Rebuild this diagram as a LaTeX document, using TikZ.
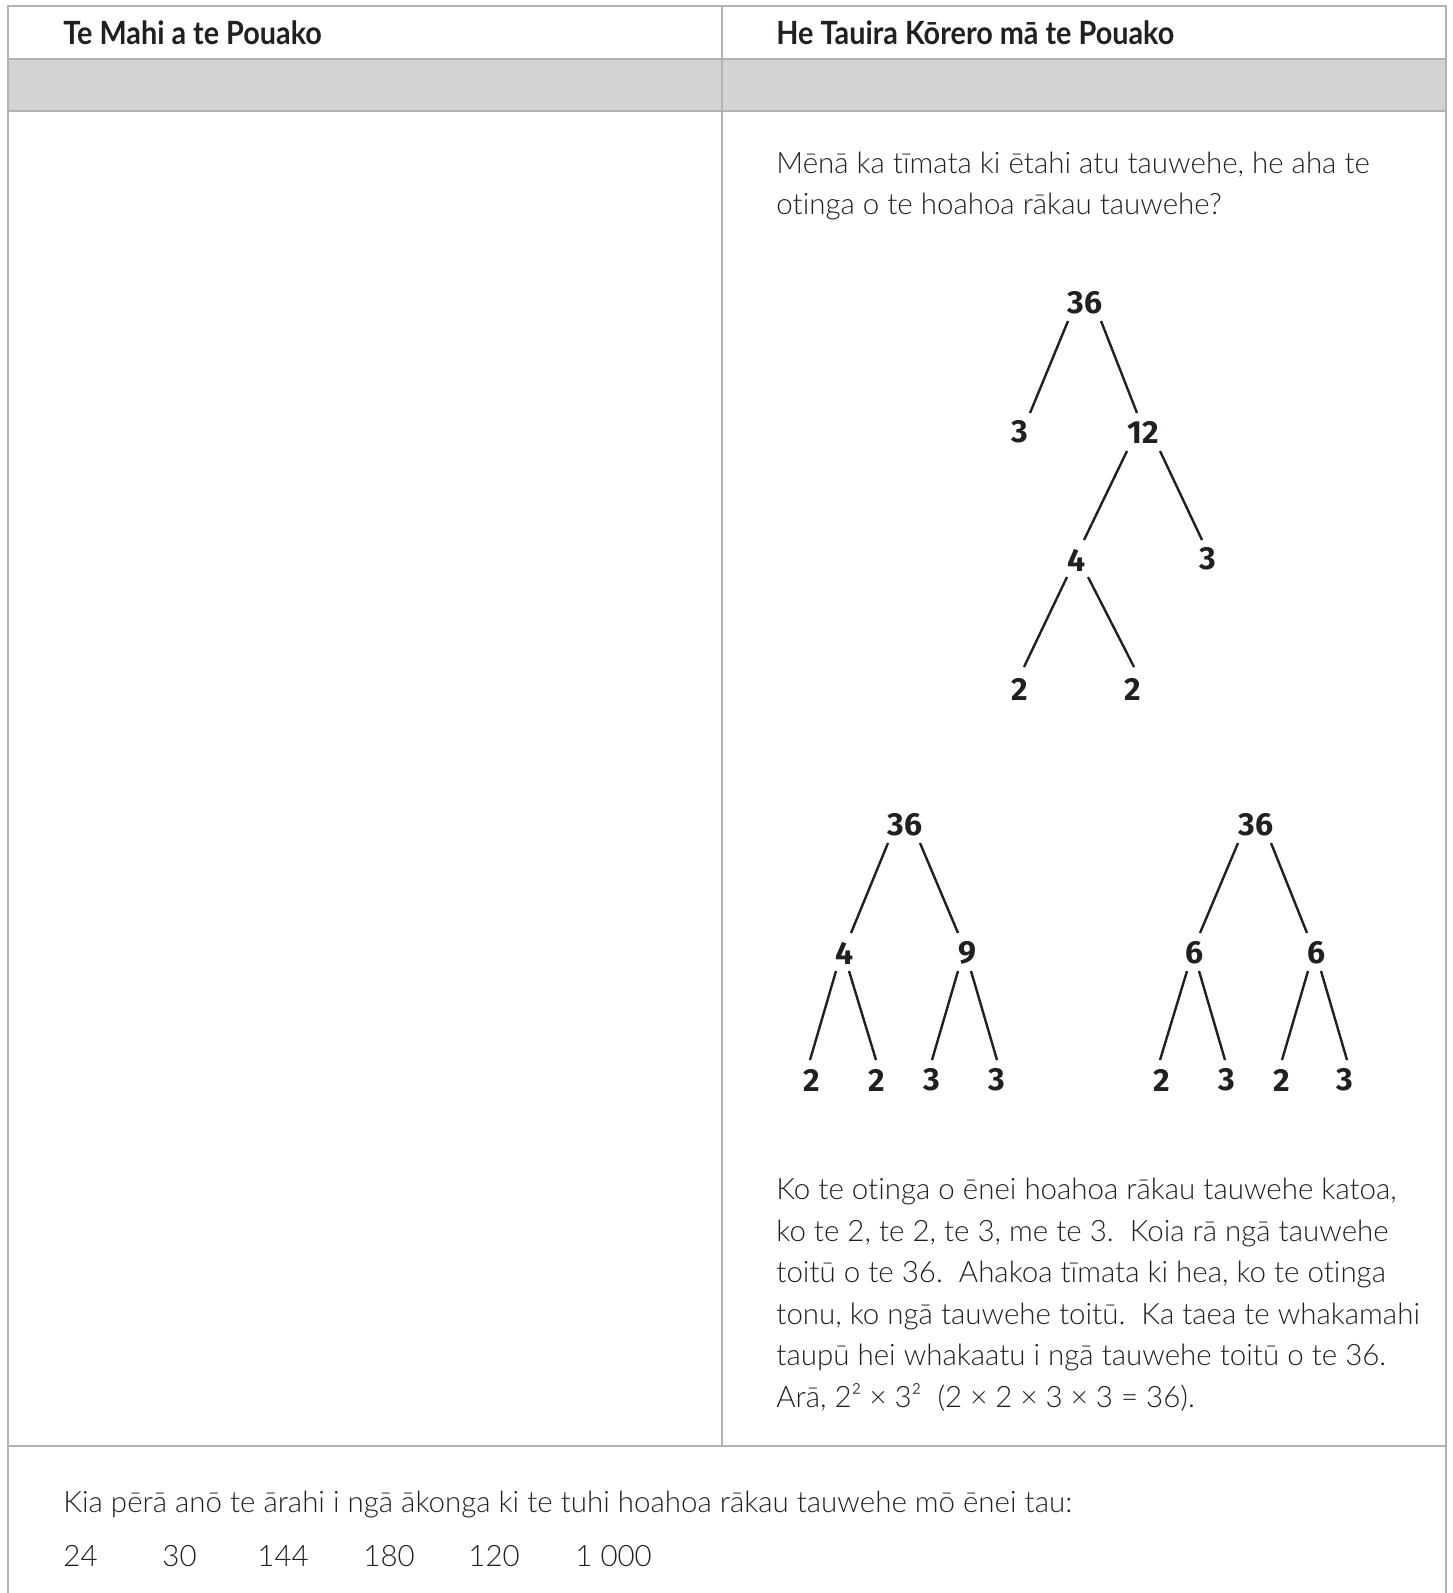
\documentclass[tikz,border=0pt]{standalone}
\usepackage{fontspec}
\setmainfont{Lato}[UprightFont=* Light,Ligatures=NoCommon]
\newfontfamily\headfont{Lato}[FakeStretch=0.9,Ligatures=NoCommon]
\newfontfamily\treefont{Fira Sans}
\definecolor{bordergray}{HTML}{B3B3B3}
\definecolor{bandgray}{HTML}{D1D3D4}
\definecolor{ink}{HTML}{231F20}
\begin{document}
\begin{tikzpicture}[x=0.5pt,y=-0.5pt,
  border/.style={draw=bordergray,line width=1.3pt},
  body/.style={anchor=base west,inner sep=0pt,text=ink,font=\fontsize{14.75}{17}\selectfont},
  head/.style={anchor=base west,inner sep=0pt,text=ink,font=\headfont\bfseries\fontsize{16}{19}\selectfont},
  num/.style={inner sep=0pt,text=ink,font=\treefont\bfseries\fontsize{16}{19}\selectfont},
  edge/.style={draw=ink,line width=1.2pt}]
\useasboundingbox (0,0) rectangle (1452,1593);
% table
\fill[bandgray] (8,59) rectangle (1446,111);
\draw[border] (8,1593) -- (8,6) -- (1446,6) -- (1446,1593);
\draw[border] (8,59) -- (1446,59);
\draw[border] (8,111) -- (1446,111);
\draw[border] (722,6) -- (722,1446);
\draw[border] (8,1446) -- (1446,1446);
% headers
\node[head] (h1) at (63,45) {Te Mahi a te Pouako};
\node[head] (h2) at (776,45) {He Tauira Kōrero mā te Pouako};
% question
\node[body] (q1) at (776,174) {Mēnā ka tīmata ki ētahi atu tauwehe, he aha te};
\node[body] (q2) at (776,215) {otinga o te hoahoa rākau tauwehe?};
% tree 1
\node[num] (a0) at (1085,303) {36};
\node[num] (a1) at (1020,432) {3};
\node[num] (a2) at (1143,432) {12};
\node[num] (a3) at (1077,560) {4};
\node[num] (a4) at (1208,559) {3};
\node[num] (a5) at (1020,689) {2};
\node[num] (a6) at (1133,689) {2};
\draw[edge] ([shift={(-17,18)}]a0.center) -- ([shift={(10,-19)}]a1.center);
\draw[edge] ([shift={(16,18)}]a0.center) -- ([shift={(-6,-19)}]a2.center);
\draw[edge] ([shift={(-16,19)}]a2.center) -- ([shift={(7,-20)}]a3.center);
\draw[edge] ([shift={(17,19)}]a2.center) -- ([shift={(-6,-19)}]a4.center);
\draw[edge] ([shift={(-10,17)}]a3.center) -- ([shift={(4,-22)}]a5.center);
\draw[edge] ([shift={(11,17)}]a3.center) -- ([shift={(1,-22)}]a6.center);
% tree 2
\node[num] (b0) at (905,825) {36};
\node[num] (b1) at (845,953) {4};
\node[num] (b2) at (967,953) {9};
\node[num] (b3) at (812,1080) {2};
\node[num] (b4) at (877,1080) {2};
\node[num] (b5) at (932,1080) {3};
\node[num] (b6) at (997,1080) {3};
\draw[edge] ([shift={(-17,18)}]b0.center) -- ([shift={(6,-20)}]b1.center);
\draw[edge] ([shift={(15,18)}]b0.center) -- ([shift={(-9,-20)}]b2.center);
\draw[edge] ([shift={(-9,18)}]b1.center) -- ([shift={(-2,-20)}]b3.center);
\draw[edge] ([shift={(4,18)}]b1.center) -- ([shift={(-1,-20)}]b4.center);
\draw[edge] ([shift={(-9,18)}]b2.center) -- ([shift={(0,-20)}]b5.center);
\draw[edge] ([shift={(4,18)}]b2.center) -- ([shift={(0,-20)}]b6.center);
% tree 3
\node[num] (c0) at (1256,825) {36};
\node[num] (c1) at (1195,953) {6};
\node[num] (c2) at (1317,953) {6};
\node[num] (c3) at (1162,1080) {2};
\node[num] (c4) at (1227,1080) {3};
\node[num] (c5) at (1282,1080) {2};
\node[num] (c6) at (1345,1080) {3};
\draw[edge] ([shift={(-18,18)}]c0.center) -- ([shift={(5,-20)}]c1.center);
\draw[edge] ([shift={(15,18)}]c0.center) -- ([shift={(-10,-20)}]c2.center);
\draw[edge] ([shift={(-8,18)}]c1.center) -- ([shift={(-2,-20)}]c3.center);
\draw[edge] ([shift={(4,18)}]c1.center) -- ([shift={(-2,-20)}]c4.center);
\draw[edge] ([shift={(-9,18)}]c2.center) -- ([shift={(0,-20)}]c5.center);
\draw[edge] ([shift={(4,18)}]c2.center) -- ([shift={(2,-20)}]c6.center);
% paragraph
\node[body] (p1) at (776,1199) {Ko te otinga o ēnei hoahoa rākau tauwehe katoa,};
\node[body] (p2) at (776,1241) {ko te 2, te 2, te 3, me te 3.\ \ Koia rā ngā tauwehe};
\node[body] (p3) at (776,1282) {toitū o te 36.\ \ Ahakoa tīmata ki hea, ko te otinga};
\node[body] (p4) at (776,1324) {tonu, ko ngā tauwehe toitū.\ \ Ka taea te whakamahi};
\node[body] (p5) at (776,1365) {taupū hei whakaatu i ngā tauwehe toitū o te 36.};
\node[body] (p6) at (776,1407) {Arā, 2² × 3²\ \ (2 × 2 × 3 × 3 = 36).};
% bottom
\node[body] (k1) at (63,1512) {Kia pērā anō te ārahi i ngā ākonga ki te tuhi hoahoa rākau tauwehe mō ēnei tau:};
\node[body] (n1) at (63,1566) {24};
\node[body] (n2) at (162,1566) {30};
\node[body] (n3) at (257,1566) {144};
\node[body] (n4) at (363,1566) {180};
\node[body] (n5) at (468,1566) {120};
\node[body] (n6) at (575,1566) {1 000};
\end{tikzpicture}
\end{document}
